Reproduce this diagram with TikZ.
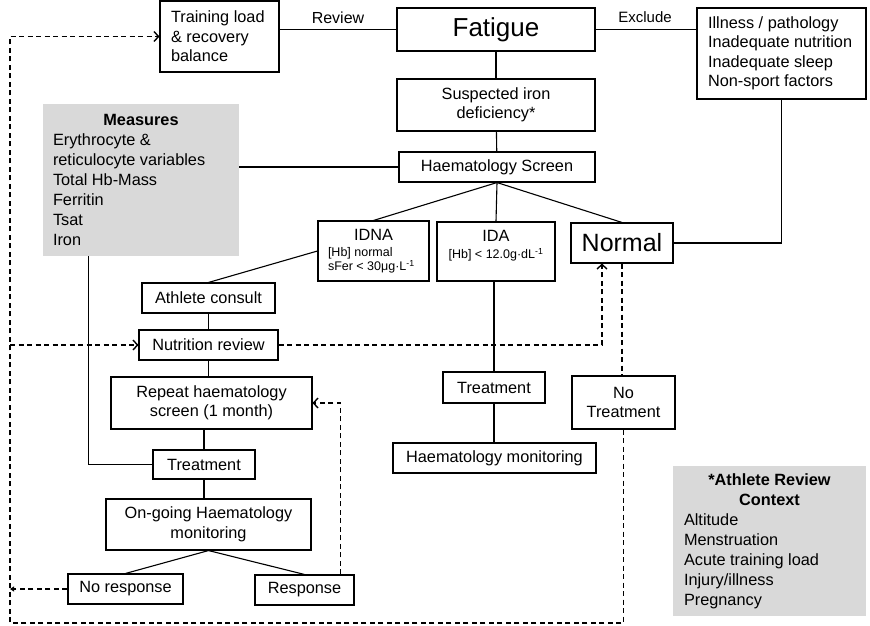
\documentclass[tikz,border=0pt]{standalone}
\usepackage{fontspec}
\setmainfont{Liberation Sans}
\usetikzlibrary{arrows.meta}
\definecolor{panelgray}{HTML}{D9D9D9}
\newcommand\smallfnt{\fontsize{12.5}{14}\selectfont}

\tikzset{
  box/.style={draw, line width=1.1pt, align=center, inner sep=0pt, font=\fontsize{16.3}{19.5}\selectfont},
  panel/.style={fill=panelgray, align=flush left, inner ysep=0pt, font=\fontsize{16.3}{20}\selectfont},
  link/.style={line width=1.1pt},
  dashlink/.style={line width=1.1pt, dash pattern=on 5pt off 3.5pt},
  backarrow/.style={dashlink, -{Straight Barb[length=4.5pt,width=10pt,line width=1.4pt]}},
}

\begin{document}
\begin{tikzpicture}[x=1pt,y=-1pt]
            \useasboundingbox (0,0) rectangle (870,625);
            % top row
            \node[box, align=flush left, inner xsep=11pt, text width=97pt, minimum height=71pt] (train) at (219.5,36.5) {Training load\\\& recovery\\balance};
            \node[box, minimum width=198pt, minimum height=43pt, font=\fontsize{26}{30}\selectfont] (fatigue) at (496,29.5) {Fatigue};
            \node[box, align=flush left, inner xsep=11pt, text width=147pt, minimum height=91pt] (excl) at (781.5,53.5) {Illness / pathology\\Inadequate nutrition\\Inadequate sleep\\Non-sport factors};
            \node[font=\fontsize{16}{19}\selectfont] (review) at (338,18) {Review};
            \node[font=\fontsize{15}{18}\selectfont] (exclude) at (645,17) {Exclude};
            \node[box, minimum width=198pt, minimum height=52pt] (susp) at (496,105) {Suspected iron\\deficiency*};
            \node[box, minimum width=196pt, minimum height=30pt] (screen) at (497,167) {Haematology Screen};
            \node[panel, inner xsep=10pt, text width=176pt, minimum height=152pt] (measures) at (141,180) {\makebox[176pt]{\bfseries Measures}\\Erythrocyte \&\\reticulocyte variables\\Total Hb-Mass\\Ferritin\\Tsat\\Iron};
            % screen outcomes
            \node[box, align=flush left, inner xsep=10pt, text width=91pt, minimum height=60pt] (idna) at (373.5,251) {\makebox[91pt]{IDNA}\\[-3pt]{\smallfnt [Hb] normal}\\[-5.5pt]{\smallfnt sFer < 30μg·L\textsuperscript{-1}}};
            \node[box, minimum width=118pt, minimum height=59pt] (ida) at (496,251.5) {IDA\\[-3pt]{\smallfnt [Hb] < 12.0g·dL\textsuperscript{-1}}\\[-5.5pt]{\smallfnt\mbox{}}};
            \node[box, minimum width=102pt, minimum height=40pt, font=\fontsize{25}{30}\selectfont] (normal) at (622,243) {Normal};
            % IDNA branch
            \node[box, minimum width=133pt, minimum height=30pt] (consult) at (208.5,298) {Athlete consult};
            \node[box, minimum width=139pt, minimum height=30pt] (nutri) at (208.5,345) {Nutrition review};
            \node[box, minimum width=201pt, minimum height=52pt] (repeat) at (211.5,403) {Repeat haematology\\screen (1 month)};
            \node[box, minimum width=102pt, minimum height=29pt] (treatL) at (204,464.5) {Treatment};
            \node[box, minimum width=205pt, minimum height=51pt] (ongoing) at (208.5,524.5) {On-going Haematology\\monitoring};
            \node[box, minimum width=115pt, minimum height=30pt] (noresp) at (125.5,589) {No response};
            \node[box, minimum width=99pt, minimum height=30pt] (resp) at (304.5,590) {Response};
            % IDA and normal branch
            \node[box, minimum width=102pt, minimum height=31pt] (treatM) at (494,387.5) {Treatment};
            \node[box, minimum width=203pt, minimum height=30pt] (monit) at (494.5,458) {Haematology monitoring};
            \node[box, minimum width=103pt, minimum height=53pt] (notreat) at (623.5,402.5) {No\\Treatment};
            \node[panel, inner xsep=11pt, text width=171pt, minimum height=150pt] (context) at (769.5,541) {\makebox[171pt]{\bfseries *Athlete Review}\\\makebox[171pt]{\bfseries Context}\\Altitude\\Menstruation\\Acute training load\\Injury/illness\\Pregnancy};
            \coordinate (lp) at (10,623);

            \draw[link] (train.east |- fatigue.west) -- (fatigue.west);
            \draw[link] (fatigue.east) -- (fatigue.east -| excl.west);
            \draw[link] (fatigue) -- (susp);
            \draw[link] (susp) -- (screen);
            \draw[link] (measures.east |- screen.west) -- (screen.west);
            \draw[link] (screen.south) -- (idna.north);
            \draw[link] (screen.south) -- (ida.north);
            \draw[link] (screen.south) -- (normal.north);
            \draw[link] (excl.south) |- (normal.east);
            \draw[link] (idna.west) -- (consult.north);
            \draw[link] (consult) -- (nutri);
            \draw[link] (nutri) -- (nutri |- repeat.north);
            \draw[link] (treatL |- repeat.south) -- (treatL);
            \draw[link] (treatL) -- (treatL |- ongoing.north);
            \draw[link] ([xshift=46pt]measures.south west) |- (treatL.west);
            \draw[link] (ongoing.south) -- (noresp.north);
            \draw[link] (ongoing.south) -- (resp.north);
            \draw[link] (treatM |- ida.south) -- (treatM);
            \draw[link] (treatM) -- (treatM |- monit.north);
            %\draw[link] (normal) -- (notreat);
            \draw[dashlink] (normal.south) -- (normal.south |- notreat.north);
            \draw[backarrow] (notreat.south) |- (lp) |- (train.west);
            \draw[backarrow] (lp |- nutri.west) -- (nutri.west);
            \draw[backarrow] (nutri.east) -| ([xshift=-20pt]normal.south);
            \draw[backarrow] ([xshift=36pt]resp.north) |- (repeat.east);
            \draw[dashlink, -{Triangle[length=4pt,width=5pt]}] (noresp.west) -- (lp |- noresp.west);
\end{tikzpicture}
\end{document}
